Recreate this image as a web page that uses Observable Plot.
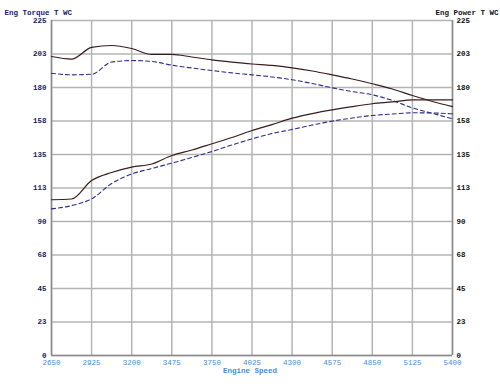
<!DOCTYPE html>
<html><head><meta charset="utf-8">
<script src="https://cdn.jsdelivr.net/npm/d3@7"></script>
<script src="https://cdn.jsdelivr.net/npm/@observablehq/plot@0.6"></script>
<style>body{margin:0;background:#fff}</style>
</head><body><div id="chart"></div>
<script>
const rpm = [2650,2787.5,2925,3062.5,3200,3337.5,3475,3612.5,3750,3887.5,4025,4162.5,4300,4437.5,4575,4712.5,4850,4987.5,5125,5262.5,5400];
const torqueA = [200.8,199.1,206.9,208.2,206.2,202.2,202.2,200.5,198.6,197.1,195.8,194.8,193.2,191.1,188.5,185.7,182.5,179.0,174.6,170.6,167.2];
const torqueB = [189.6,188.5,188.9,197.1,198.1,197.5,195.0,193.1,191.4,189.8,188.5,187.1,185.2,182.7,179.8,177.3,175.1,171.3,166.3,162.6,159.0];
const powerA  = [104.6,105.1,117.5,122.9,126.5,128.6,134.3,138.0,142.2,146.4,151.1,155.1,159.4,162.5,165.0,167.2,169.1,170.3,171.7,171.7,171.7];
const powerB  = [98.5,100.7,105.2,115.5,121.9,125.6,129.2,133.0,137.0,141.4,145.5,149.1,151.8,154.8,157.4,159.5,161.2,162.2,163.0,162.9,162.3];
const xTicks = [2650,2925,3200,3475,3750,4025,4300,4575,4850,5125,5400];
const yTicks = [0,22.5,45,67.5,90,112.5,135,157.5,180,202.5,225];
const yTickLabels = ["0","23","45","68","90","113","135","158","180","203","225"];
const leftTitle = "Eng Torque T WC";
const rightTitle = "Eng Power T WC";
const xTitle = "Engine Speed";

const mk = (ys) => rpm.map((x,i)=>({x, y: ys[i]}));
const yfmt = v => yTickLabels[yTicks.indexOf(v)];
const font = "'Liberation Mono', 'DejaVu Sans Mono', monospace";

const chart = Plot.plot({
  width: 500, height: 387,
  marginLeft: 51, marginRight: 48, marginTop: 20, marginBottom: 32,
  style: {fontFamily: font, fontSize: "7.5px", background: "#fff"},
  x: {domain: [2650, 5400]},
  y: {domain: [0, 225]},
  marks: [
    Plot.gridX(xTicks, {stroke: "#b4b4b4", strokeOpacity: 1, strokeWidth: 1.5}),
    Plot.gridY(yTicks, {stroke: "#b4b4b4", strokeOpacity: 1, strokeWidth: 1.5}),
    Plot.ruleX([2650, 5400], {stroke: "#8a8a8a", strokeWidth: 1.5}),
    Plot.ruleY([0], {stroke: "#8a8a8a", strokeWidth: 1.5}),
    Plot.axisX({ticks: xTicks, tickSize: 0, tickPadding: 4.5, tickFormat: d => String(d), label: null, fill: "#3f8de0"}),
    Plot.axisY({ticks: yTicks, tickSize: 0, tickPadding: 5, tickFormat: yfmt, label: null, fill: "#1a1a55", fontWeight: "bold", anchor: "left"}),
    Plot.axisY({ticks: yTicks, tickSize: 0, tickPadding: 4, tickFormat: yfmt, label: null, fill: "#111", fontWeight: "bold", anchor: "right"}),
    Plot.line(mk(torqueB), {x: "x", y: "y", stroke: "#2e2e8a", strokeWidth: 1.1, strokeDasharray: "4,3", curve: "monotone-x"}),
    Plot.line(mk(powerB), {x: "x", y: "y", stroke: "#2e2e8a", strokeWidth: 1.1, strokeDasharray: "4,3", curve: "monotone-x"}),
    Plot.line(mk(torqueA), {x: "x", y: "y", stroke: "#3a1c1c", strokeWidth: 1.2, curve: "monotone-x"}),
    Plot.line(mk(powerA), {x: "x", y: "y", stroke: "#3a1c1c", strokeWidth: 1.2, curve: "monotone-x"}),
    Plot.text([leftTitle], {frameAnchor: "top-left", dx: -47, dy: -11, text: d => d, fill: "#1a1a7a", fontWeight: "bold", textAnchor: "start"}),
    Plot.text([rightTitle], {frameAnchor: "top-right", dx: 46, dy: -11, text: d => d, fill: "#111", fontWeight: "bold", textAnchor: "end"}),
    Plot.text([xTitle], {frameAnchor: "bottom", dx: -2, dy: 17.5, text: d => d, fill: "#3f8de0", fontWeight: "bold"})
  ]
});
document.getElementById("chart").appendChild(chart);
</script>
</body></html>
